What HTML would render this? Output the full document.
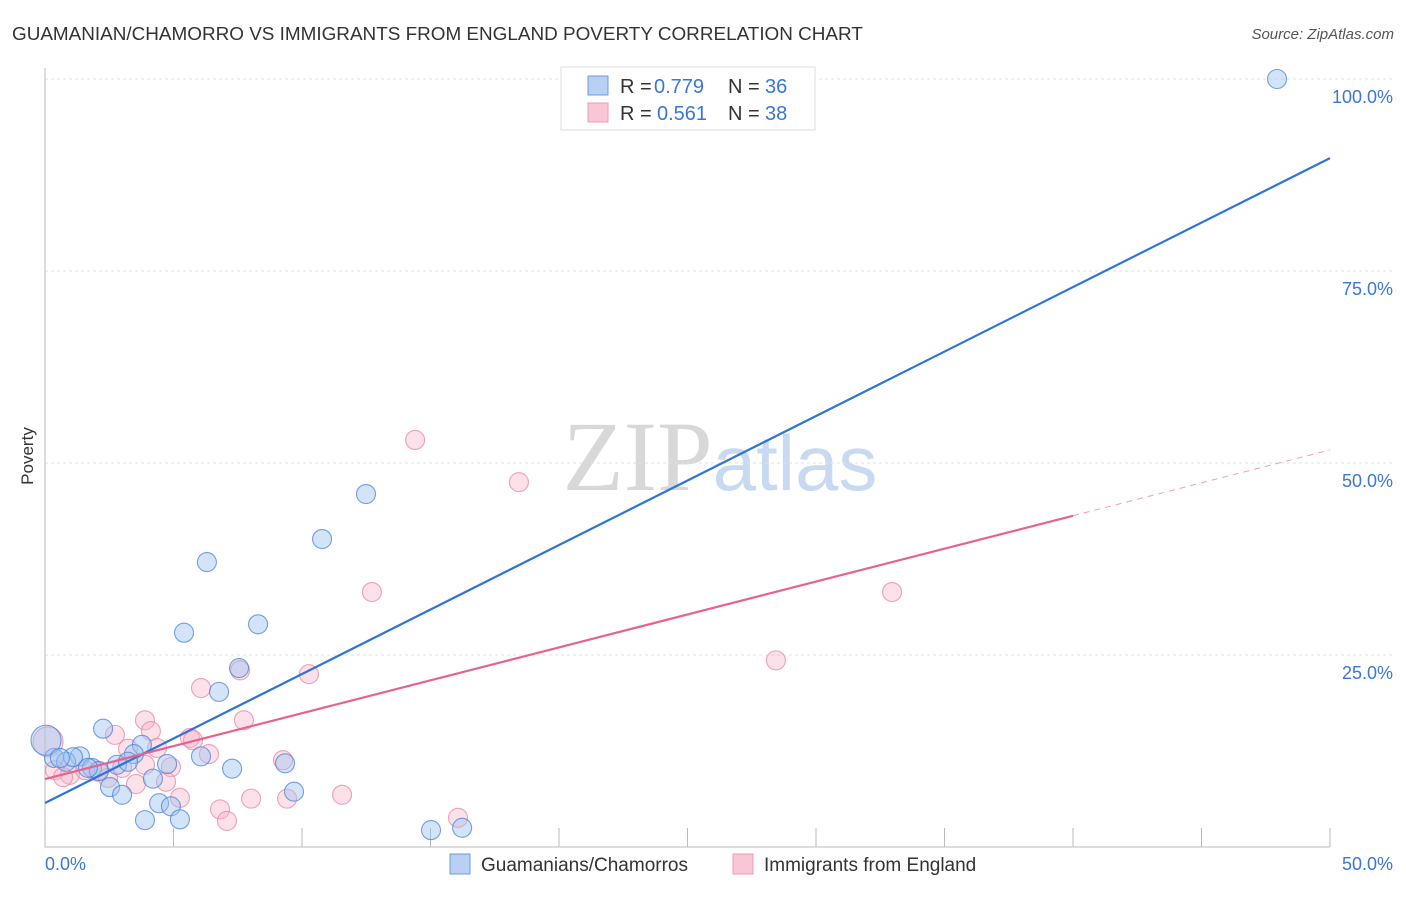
<!DOCTYPE html>
<html><head><meta charset="utf-8"><style>
body{margin:0;background:#fff;font-family:"Liberation Sans",sans-serif}
</style></head><body>
<svg id="chart" width="1406" height="892" xmlns="http://www.w3.org/2000/svg" font-family="Liberation Sans, sans-serif">
<text x="12" y="40" font-size="18.9" fill="#333">GUAMANIAN/CHAMORRO VS IMMIGRANTS FROM ENGLAND POVERTY CORRELATION CHART</text>
<text x="1394" y="39" font-size="15" fill="#555" text-anchor="end" font-style="italic">Source: ZipAtlas.com</text>
<text x="720" y="490" font-size="100" text-anchor="middle" font-family="Liberation Serif, serif" fill="#ddd"><tspan fill="#d8d8d8">ZIP</tspan><tspan font-family="Liberation Sans, sans-serif" font-size="78" fill="#c8daf2">atlas</tspan></text>
<g id="grid"></g><g id="axes"></g><g id="marks"></g>
<text transform="translate(33,456) rotate(-90)" font-size="17" fill="#333" text-anchor="middle">Poverty</text>
<g>
<rect x="561" y="67" width="254" height="63" fill="#fff" stroke="#ddd"/>
<rect x="588" y="76" width="20" height="19" fill="#b8d0f4" stroke="#6d9de0"/>
<rect x="588" y="103" width="20" height="19" fill="#f9c6d5" stroke="#ee9ab4"/>
<text x="620" y="93" font-size="20" fill="#333">R =</text><text x="654" y="93" font-size="20" fill="#3b76d6">0.779</text>
<text x="728" y="93" font-size="20" fill="#333">N =</text><text x="765" y="93" font-size="20" fill="#3b76d6">36</text>
<text x="620" y="120" font-size="20" fill="#333">R =</text><text x="657" y="120" font-size="20" fill="#3b76d6">0.561</text>
<text x="728" y="120" font-size="20" fill="#333">N =</text><text x="765" y="120" font-size="20" fill="#3b76d6">38</text>
</g>
<g>
<rect x="450" y="854" width="20" height="20" fill="#b8d0f4" stroke="#6d9de0"/>
<text x="481" y="871" font-size="19" fill="#333">Guamanians/Chamorros</text>
<rect x="733" y="854" width="20" height="20" fill="#f9c6d5" stroke="#ee9ab4"/>
<text x="764" y="871" font-size="19" fill="#333">Immigrants from England</text>
</g>
</svg>
<script>
const xTicks=[0,50];
const yTicks=[25,50,75,100];
const blueX=[47.94,12.49,10.78,6.30,5.41,8.29,7.55,6.77,2.26,3.77,1.36,0.35,0.82,1.09,3.46,2.80,3.23,1.83,2.10,4.75,6.07,7.28,9.34,4.20,2.53,3.00,9.69,4.44,4.90,3.89,5.25,15.02,16.23,0.04,1.67,0.58];
const blueY=[100,45.96,40.1,37.1,27.9,29.0,23.3,20.2,15.4,13.3,11.8,11.6,11.1,11.7,12.1,10.7,11.1,10.3,9.9,10.8,11.8,10.2,10.9,8.9,7.8,6.8,7.2,5.7,5.3,3.5,3.6,2.2,2.5,13.9,10.3,11.6];
const pinkX=[14.40,18.44,12.72,32.96,28.44,10.27,7.59,6.07,3.89,7.74,2.72,4.12,5.64,4.36,3.23,4.90,6.38,9.26,0.39,0.97,0.70,2.06,2.45,3.54,4.71,5.25,8.02,9.42,11.56,6.81,7.08,16.07,3.00,0.12,1.56,5.76,3.89];
const pinkY=[53.0,47.5,33.2,33.2,24.3,22.5,23.0,20.7,16.5,16.5,14.6,15.1,14.2,12.9,12.8,10.4,12.1,11.3,10.0,9.4,9.1,9.8,9.0,8.2,8.5,6.4,6.3,6.3,6.8,4.9,3.4,3.8,10.3,13.7,10.0,13.9,10.7];
const blueLine=[5.73,89.7];
const pinkLine=[8.85,51.7];
const pinkSolidEnd=40;
const NS="http://www.w3.org/2000/svg";
const sx=v=>45+v*25.7, sy=v=>847-v*7.68;
function mk(p,t,a){const e=document.createElementNS(NS,t);for(const k in a)e.setAttribute(k,a[k]);p.appendChild(e);return e;}
const grid=document.getElementById('grid'),axes=document.getElementById('axes'),marks=document.getElementById('marks');
yTicks.forEach(v=>{
 const l=mk(grid,'line',{x1:45,x2:1394,y1:sy(v),y2:sy(v),stroke:'#e2e2e2','stroke-dasharray':'3,3'});
 
 
 const t=mk(grid,'text',{x:1393,y:sy(v)+24,'font-size':18,fill:'#3b76d6','text-anchor':'end'});
 t.textContent=v.toFixed(1)+'%';
 
 
});
const ax=mk(axes,'path',{d:'M45,68V847H1330',stroke:'#bbb',fill:'none'});


for(let i=1;i<=10;i++){const x=sx(i*5);const tk=mk(axes,'line',{x1:x,x2:x,y1:828,y2:847,stroke:'#bbb'});
 
 }
xTicks.forEach((v,i)=>{const t=mk(axes,'text',{x:i?1393:45,y:870,'font-size':18,fill:'#3b76d6','text-anchor':i?'end':'start'});
 t.textContent=v.toFixed(1)+'%';
 
 });
function pts(X,Y,fill,stroke,name,bigIdx){X.forEach((x,i)=>{const c=mk(marks,'circle',{cx:sx(x),cy:sy(Y[i]),r:i===bigIdx?15:9.5,fill:fill,stroke:stroke,'stroke-width':1.1});
 
 });}
pts(pinkX,pinkY,'rgba(248,180,200,0.4)','rgba(236,130,165,0.75)','england-point',33);
pts(blueX,blueY,'rgba(160,195,240,0.45)','rgba(70,130,220,0.75)','guamanian-point',33);
const bl=mk(marks,'line',{x1:sx(0),y1:sy(blueLine[0]),x2:sx(50),y2:sy(blueLine[1]),stroke:'#2f74d6','stroke-width':2.2});


const pe=pinkLine[0]+(pinkLine[1]-pinkLine[0])*pinkSolidEnd/50;
const pl=mk(marks,'line',{x1:sx(0),y1:sy(pinkLine[0]),x2:sx(pinkSolidEnd),y2:sy(pe),stroke:'#e8628f','stroke-width':2.2});


const pd=mk(marks,'line',{x1:sx(pinkSolidEnd),y1:sy(pe),x2:sx(50),y2:sy(pinkLine[1]),stroke:'#eca0b8','stroke-width':1,'stroke-dasharray':'6,5'});


</script>
</body></html>
